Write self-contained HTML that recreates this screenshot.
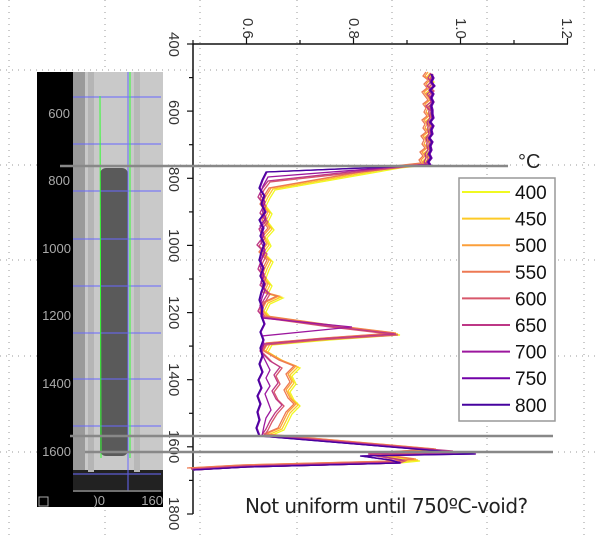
<!DOCTYPE html>
<html><head><meta charset="utf-8"><style>
html,body{margin:0;padding:0;background:#fff;}
svg{display:block;font-family:"Liberation Sans",sans-serif;}
</style></head><body>
<svg width="600" height="536" viewBox="0 0 600 536" xmlns="http://www.w3.org/2000/svg" xmlns:xlink="http://www.w3.org/1999/xlink">
<defs>
<path id="pA" d="M432,74 L429,78 434,82 430,86 433,90 428,94 431,98 434,102 429,106 432,110 430,114 433,118 428,122 431,126 429,130 432,134 427,138 430,142 428,146 431,150 426,154 429,158 425,162 427,165 400,168 275,190 270,198 266,206 272,214 268,222 274,230 267,238 271,246 265,254 273,262 269,270 266,278 272,286 268,294 283,298 270,304 266,312 271,318 335,327 400,335 330,340 272,345 268,352 285,362 300,368 292,376 296,384 290,392 294,400 300,406 292,414 288,422 284,430 270,436 440,451 375,455 420,461 400,463 247,467 193,470"/>
<path id="pB" d="M433,74 L430,79 433,83 429,87 434,91 429,95 432,99 433,103 428,107 431,111 431,115 432,119 429,123 430,127 430,131 431,135 428,139 429,143 429,147 430,151 427,155 428,159 426,163 428,165 405,167 270,182 264,190 260,198 266,206 262,214 268,222 261,230 265,238 259,246 267,254 263,262 260,270 266,278 262,286 270,294 264,304 260,312 265,318 330,327 398,335 320,340 266,345 262,352 272,362 282,368 276,376 280,384 274,392 278,400 284,406 277,414 272,422 268,430 264,436 455,452 370,455 405,461 400,463 247,467 193,470"/>
<path id="pC" d="M431,74 L432,78 430,82 433,86 429,90 432,94 430,98 432,102 430,106 431,110 431,114 432,118 429,122 432,126 430,130 431,134 428,138 431,142 429,146 430,150 428,154 430,158 427,162 429,165 408,166 268,177 263,186 260,194 265,202 262,210 266,218 260,226 264,234 261,242 265,250 262,258 260,266 264,274 261,282 265,290 262,298 260,306 263,314 262,318 352,327 262,336 264,344 261,352 266,362 270,370 266,378 270,386 265,394 268,402 271,410 266,418 264,426 262,436 465,453 362,456 395,461 400,463 247,467 193,470"/>
<path id="pD" d="M431,74 L433,78 431,82 434,86 430,90 433,94 431,98 433,102 431,106 432,110 432,114 433,118 430,122 433,126 431,130 432,134 429,138 432,142 430,146 431,150 429,154 431,158 428,162 430,165 410,166 266,172 262,180 259,188 264,196 261,204 265,212 259,220 263,228 260,236 264,244 261,252 259,260 263,268 260,276 264,284 261,292 259,300 262,308 261,316 264,324 260,332 263,340 260,348 262,356 259,364 262,372 258,380 261,388 257,396 260,404 257,412 259,420 256,428 259,436 475,454 360,456 390,460 400,463 247,467 193,470"/>
</defs>
<g stroke="#999" stroke-width="1" stroke-dasharray="1,5">
<line x1="9" y1="0" x2="9" y2="536"/><line x1="105" y1="0" x2="105" y2="536"/><line x1="200" y1="0" x2="200" y2="536"/><line x1="297" y1="0" x2="297" y2="536"/><line x1="392" y1="0" x2="392" y2="536"/><line x1="487" y1="0" x2="487" y2="536"/><line x1="584" y1="0" x2="584" y2="536"/>
<line x1="0" y1="70" x2="600" y2="70"/><line x1="0" y1="165" x2="600" y2="165"/><line x1="0" y1="260" x2="600" y2="260"/><line x1="0" y1="356" x2="600" y2="356"/><line x1="0" y1="452" x2="600" y2="452"/>
</g>
<rect x="37" y="72" width="126" height="435" fill="#000"/>
<rect x="73" y="72" width="90" height="405" fill="#c9c9c9"/>
<rect x="73" y="72" width="12" height="405" fill="#9a9a9a"/>
<rect x="73" y="470" width="90" height="22" fill="#222"/>
<rect x="88" y="72" width="6" height="400" fill="#b5b5b5"/>
<rect x="134" y="72" width="6" height="400" fill="#b8b8b8"/>
<rect x="100" y="168" width="28" height="288" rx="6" fill="#5a5a5a"/>
<g stroke="#6a6aff" stroke-width="1.2" opacity="0.8">
<line x1="73" y1="97" x2="161" y2="97"/><line x1="73" y1="144" x2="161" y2="144"/><line x1="73" y1="191" x2="161" y2="191"/><line x1="73" y1="239" x2="161" y2="239"/><line x1="73" y1="286" x2="161" y2="286"/><line x1="73" y1="333" x2="161" y2="333"/><line x1="73" y1="379" x2="161" y2="379"/><line x1="73" y1="426" x2="161" y2="426"/><line x1="73" y1="474" x2="161" y2="474"/>
<line x1="128" y1="72" x2="128" y2="491"/>
</g>
<line x1="100" y1="96" x2="101" y2="458" stroke="#3f3" stroke-width="1"/>
<line x1="130" y1="72" x2="130" y2="458" stroke="#3f3" stroke-width="1"/>
<line x1="73" y1="491" x2="161" y2="491" stroke="#888" stroke-width="1.5"/>
<g fill="#aaa" font-size="13" text-anchor="end">
<text x="70" y="118">600</text><text x="70" y="185">800</text><text x="71" y="253">1000</text><text x="71" y="320">1200</text><text x="71" y="388">1400</text><text x="71" y="456">1600</text>
<text x="105" y="505">)0</text><text x="163" y="505">160</text>
</g>
<rect x="39" y="497" width="9" height="9" fill="none" stroke="#aaa"/>
<g stroke="#111" stroke-width="1.5" fill="none">
<line x1="193" y1="44" x2="568" y2="44"/><line x1="193" y1="44" x2="193" y2="514"/>
</g>
<g stroke="#111" stroke-width="1.2">
<line x1="193" y1="44" x2="193" y2="40"/><line x1="246.5" y1="44" x2="246.5" y2="38"/><line x1="300" y1="44" x2="300" y2="40"/><line x1="353.5" y1="44" x2="353.5" y2="38"/><line x1="407" y1="44" x2="407" y2="40"/><line x1="460.5" y1="44" x2="460.5" y2="38"/><line x1="514" y1="44" x2="514" y2="40"/><line x1="567.5" y1="44" x2="567.5" y2="38"/>
<line x1="193" y1="44" x2="187" y2="44"/><line x1="193" y1="77.6" x2="189" y2="77.6"/><line x1="193" y1="111.1" x2="187" y2="111.1"/><line x1="193" y1="144.7" x2="189" y2="144.7"/><line x1="193" y1="178.3" x2="187" y2="178.3"/><line x1="193" y1="211.9" x2="189" y2="211.9"/><line x1="193" y1="245.4" x2="187" y2="245.4"/><line x1="193" y1="279" x2="189" y2="279"/><line x1="193" y1="312.6" x2="187" y2="312.6"/><line x1="193" y1="346.1" x2="189" y2="346.1"/><line x1="193" y1="379.7" x2="187" y2="379.7"/><line x1="193" y1="413.3" x2="189" y2="413.3"/><line x1="193" y1="446.8" x2="187" y2="446.8"/><line x1="193" y1="480.4" x2="189" y2="480.4"/><line x1="193" y1="514" x2="187" y2="514"/>
</g>
<g fill="#333" font-size="15">
<text transform="translate(243,18) rotate(90)">0.6</text>
<text transform="translate(349,18) rotate(90)">0.8</text>
<text transform="translate(456,18) rotate(90)">1.0</text>
<text transform="translate(562,18) rotate(90)">1.2</text>
<text transform="translate(169,32) rotate(90)">400</text>
<text transform="translate(169,100) rotate(90)">600</text>
<text transform="translate(169,167) rotate(90)">800</text>
<text transform="translate(169,229) rotate(90)">1000</text>
<text transform="translate(169,296) rotate(90)">1200</text>
<text transform="translate(169,363) rotate(90)">1400</text>
<text transform="translate(169,430) rotate(90)">1600</text>
<text transform="translate(169,497) rotate(90)">1800</text>
</g>
<g fill="none" stroke-width="1.3">
<use xlink:href="#pA" stroke="#f0f921"/>
<use xlink:href="#pA" stroke="#fdca26" transform="translate(-2,-1)"/>
<use xlink:href="#pA" stroke="#fb9f3a" transform="translate(-4,-2)"/>
<use xlink:href="#pA" stroke="#ed7953" transform="translate(-6,-2)"/>
<use xlink:href="#pB" stroke="#d8576b"/>
<use xlink:href="#pB" stroke="#bd3786" transform="translate(-2,-1)"/>
<use xlink:href="#pC" stroke="#9c179e"/>
<use xlink:href="#pD" stroke="#7201a8" transform="translate(1,0)"/>
<use xlink:href="#pD" stroke="#46039f"/>
</g>
<g stroke="#888" stroke-width="2.5">
<line x1="60" y1="166" x2="508" y2="166"/>
<line x1="70" y1="436" x2="553" y2="436"/>
<line x1="85" y1="452" x2="553" y2="452"/>
</g>
<text x="518" y="168" font-size="20" fill="#222">°C</text>
<rect x="459" y="178" width="96" height="243" fill="#fff" stroke="#999" stroke-width="1.5"/>
<g font-size="19" fill="#111" stroke-width="2">
<line x1="462" y1="192" x2="510" y2="192" stroke="#f0f921"/><text x="515" y="199">400</text>
<line x1="462" y1="218.6" x2="510" y2="218.6" stroke="#fdca26"/><text x="515" y="225.6">450</text>
<line x1="462" y1="245.2" x2="510" y2="245.2" stroke="#fb9f3a"/><text x="515" y="252.2">500</text>
<line x1="462" y1="271.8" x2="510" y2="271.8" stroke="#ed7953"/><text x="515" y="278.8">550</text>
<line x1="462" y1="298.4" x2="510" y2="298.4" stroke="#d8576b"/><text x="515" y="305.4">600</text>
<line x1="462" y1="325" x2="510" y2="325" stroke="#bd3786"/><text x="515" y="332">650</text>
<line x1="462" y1="351.6" x2="510" y2="351.6" stroke="#9c179e"/><text x="515" y="358.6">700</text>
<line x1="462" y1="378.2" x2="510" y2="378.2" stroke="#7201a8"/><text x="515" y="385.2">750</text>
<line x1="462" y1="404.8" x2="510" y2="404.8" stroke="#46039f"/><text x="515" y="411.8">800</text>
</g>
<text x="245" y="513" font-size="20" fill="#222" font-family="DejaVu Sans, sans-serif" letter-spacing="-0.5">Not uniform until 750ºC-void?</text>
</svg>
</body></html>
